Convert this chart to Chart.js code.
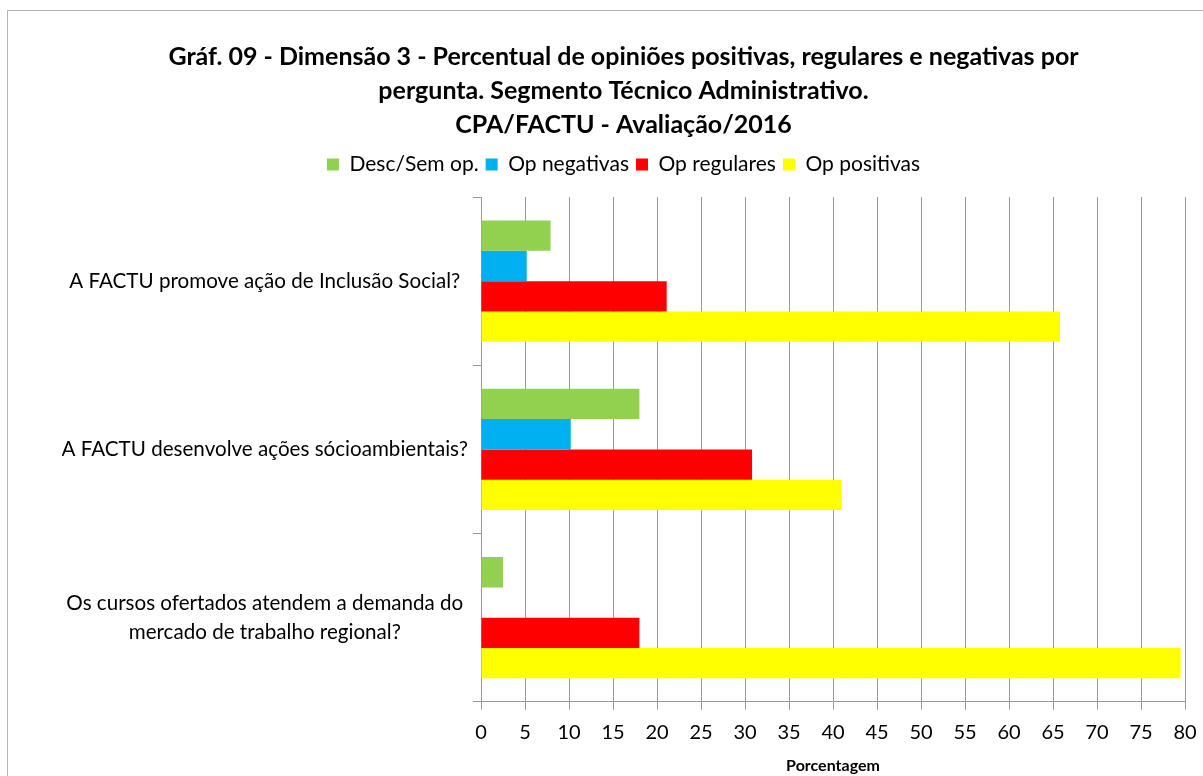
<!DOCTYPE html>
<html>
<head>
<meta charset="utf-8">
<script src="https://cdn.jsdelivr.net/npm/chart.js"></script>
<style>
  html, body { margin: 0; padding: 0; background: #fff; overflow: hidden; }
  #frame { position: absolute; left: 7px; top: 10px; width: 1230px; height: 800px; border: 1.5px solid #b4b4b4; }
  #wrap { position: absolute; left: 0; top: 0; width: 1203px; height: 776px; }
</style>
</head>
<body>
<div id="frame"></div>
<div id="wrap"><canvas id="barChart"></canvas></div>
<script>
// questions (y axis categories)
const questions = [
  'A FACTU promove ação de Inclusão Social?',
  'A FACTU desenvolve ações sócioambientais?',
  ['Os cursos ofertados atendem a demanda do', 'mercado de trabalho regional?']
];

// percentage per question, one array per series
const descSemOp   = [7.9, 18.0, 2.5];
const opNegativas = [5.2, 10.2, 0];
const opRegulares = [21.1, 30.8, 18.0];
const opPositivas = [65.8, 41.0, 79.5];

const xTicks = [0, 5, 10, 15, 20, 25, 30, 35, 40, 45, 50, 55, 60, 65, 70, 75, 80];

const font = 'Lato, "Open Sans", sans-serif';

function makeChart() {
  const ctx = document.getElementById('barChart');

  new Chart(ctx, {
    type: 'bar',
    data: {
      labels: questions,
      datasets: [
        { label: 'Desc/Sem op.',  data: descSemOp,   backgroundColor: '#92D050' },
        { label: 'Op negativas',  data: opNegativas, backgroundColor: '#00B0F0' },
        { label: 'Op regulares',  data: opRegulares, backgroundColor: '#FF0000' },
        { label: 'Op positivas',  data: opPositivas, backgroundColor: '#FFFF00' }
      ]
    },
    options: {
      indexAxis: 'y',
      responsive: true,
      maintainAspectRatio: false,
      animation: false,
      categoryPercentage: 0.72,
      barPercentage: 1.0,
      layout: { padding: { top: 40, right: 18, left: 62, bottom: 1 } },
      scales: {
        x: {
          min: 0,
          max: 80,
          afterBuildTicks: function (scale) {
            scale.ticks = xTicks.map(v => ({ value: v }));
          },
          afterFit: function (scale) {
            // the "80" label fits inside the layout padding
            scale.paddingRight = 0;
            scale.paddingLeft = 0;
          },
          ticks: {
            font: { size: 20, family: font },
            color: '#000',
            padding: 11
          },
          grid: {
            color: '#9a9a9a',
            lineWidth: 1,
            tickLength: 8
          },
          border: { color: '#9a9a9a' },
          title: {
            display: true,
            text: 'Porcentagem',
            font: { size: 16, weight: 'bold', family: font },
            color: '#000',
            padding: { top: 0, bottom: 0 }
          }
        },
        y: {
          afterFit: function (scale) {
            scale.width = 481 - 62;   // left edge of the plot at x = 481
          },
          ticks: {
            font: { size: 20.6, family: font, lineHeight: 1.42 },
            color: '#000',
            padding: 5,
            crossAlign: 'center'
          },
          grid: {
            drawOnChartArea: false,
            color: '#9a9a9a',
            tickLength: 8
          },
          border: { color: '#9a9a9a' }
        }
      },
      plugins: {
        title: {
          display: true,
          text: [
            'Gráf. 09 - Dimensão 3 - Percentual de opiniões positivas, regulares e negativas por',
            'pergunta. Segmento Técnico Administrativo.',
            'CPA/FACTU - Avaliação/2016'
          ],
          font: { size: 25, weight: 'bold', family: font, lineHeight: 1.36 },
          color: '#000',
          padding: { top: 0, bottom: 5 }
        },
        // empty subtitle used as a spacer between legend and plot
        subtitle: {
          display: true,
          text: '',
          weight: 500,
          font: { size: 1, lineHeight: 1 },
          padding: { top: 11, bottom: 0 }
        },
        legend: {
          display: true,
          position: 'top',
          labels: {
            font: { size: 21, family: font },
            color: '#000',
            boxWidth: 12,
            boxHeight: 12,
            padding: 7
          }
        },
        tooltip: { enabled: false }
      }
    }
  });
}
makeChart();
</script>
</body>
</html>
